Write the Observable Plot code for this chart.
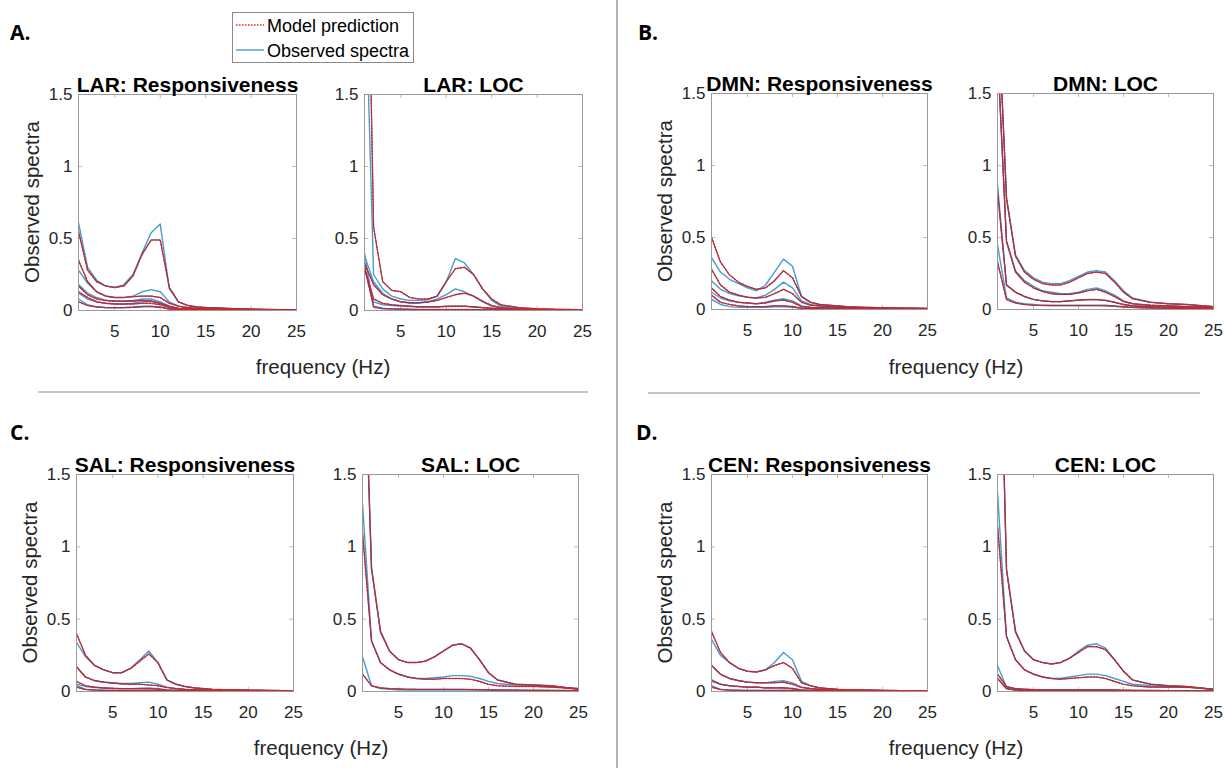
<!DOCTYPE html>
<html><head><meta charset="utf-8">
<script src="https://cdn.jsdelivr.net/npm/d3@7"></script>
<script src="https://cdn.jsdelivr.net/npm/@observablehq/plot@0.6"></script>
<style>
body{margin:0;background:#fff;}
#root{position:relative;width:1231px;height:768px;overflow:hidden;font-family:"Liberation Sans",Arial,sans-serif;}
#root > svg{position:absolute;}
</style></head><body><div id="root"></div>
<script>
// ---------------- data ----------------
const freq = [1,2,3,4,5,6,7,8,9,10,11,12,13,14,15,16,18,20,22,25];
const xTicks = [5,10,15,20,25];
const yTicks = [0,0.5,1,1.5];
const legendLabels = ["Model prediction","Observed spectra"];
const xLabel = "frequency (Hz)";
const yLabel = "Observed spectra";

// LAR: Responsiveness
const larRespObs = [
  [0.61,0.30,0.21,0.17,0.16,0.18,0.25,0.40,0.54,0.60,0.15,0.06,0.035,0.025,0.02,0.018,0.013,0.01,0.007,0.004],
  [0.28,0.19,0.13,0.10,0.09,0.09,0.10,0.13,0.145,0.13,0.06,0.03,0.02,0.015,0.012,0.01,0.008,0.006,0.005,0.003],
  [0.18,0.12,0.09,0.07,0.065,0.065,0.07,0.08,0.08,0.06,0.03,0.015,0.012,0.01,0.009,0.008,0.006,0.005,0.004,0.003],
  [0.12,0.08,0.06,0.05,0.045,0.045,0.05,0.06,0.065,0.05,0.025,0.012,0.01,0.008,0.007,0.006,0.005,0.004,0.003,0.002],
  [0.08,0.04,0.025,0.02,0.02,0.02,0.025,0.03,0.03,0.025,0.01,0.006,0.005,0.004,0.004,0.003,0.003,0.002,0.002,0.001]
];
const larRespModel = [
  [0.55,0.28,0.20,0.17,0.16,0.17,0.24,0.39,0.49,0.49,0.16,0.06,0.035,0.025,0.02,0.018,0.013,0.01,0.007,0.004],
  [0.35,0.20,0.13,0.10,0.09,0.09,0.095,0.10,0.10,0.09,0.05,0.03,0.02,0.015,0.012,0.01,0.008,0.006,0.005,0.003],
  [0.17,0.11,0.08,0.07,0.065,0.065,0.065,0.07,0.065,0.05,0.03,0.015,0.012,0.01,0.009,0.008,0.006,0.005,0.004,0.003],
  [0.13,0.09,0.06,0.05,0.045,0.045,0.045,0.05,0.05,0.04,0.02,0.012,0.01,0.008,0.007,0.006,0.005,0.004,0.003,0.002],
  [0.06,0.035,0.025,0.02,0.02,0.02,0.022,0.026,0.028,0.022,0.01,0.006,0.005,0.004,0.004,0.003,0.003,0.002,0.002,0.001]
];
// LAR: LOC
const larLocObs = [
  [2.5,0.25,0.15,0.10,0.08,0.07,0.07,0.075,0.10,0.20,0.36,0.33,0.25,0.15,0.07,0.03,0.015,0.01,0.008,0.005],
  [0.38,0.20,0.12,0.08,0.06,0.05,0.05,0.06,0.08,0.11,0.15,0.13,0.10,0.06,0.03,0.015,0.01,0.007,0.005,0.004],
  [0.30,0.06,0.04,0.035,0.03,0.028,0.025,0.025,0.025,0.028,0.03,0.03,0.025,0.02,0.015,0.01,0.007,0.005,0.004,0.003],
  [0.40,0.02,0.012,0.01,0.008,0.007,0.006,0.006,0.006,0.006,0.006,0.006,0.005,0.005,0.004,0.004,0.003,0.003,0.002,0.002]
];
const larLocModel = [
  [4.0,0.58,0.20,0.14,0.13,0.09,0.08,0.08,0.10,0.20,0.29,0.30,0.25,0.15,0.08,0.04,0.02,0.012,0.008,0.005],
  [0.33,0.18,0.11,0.08,0.06,0.055,0.055,0.06,0.07,0.09,0.11,0.12,0.10,0.065,0.035,0.02,0.01,0.007,0.005,0.004],
  [0.30,0.08,0.05,0.04,0.035,0.03,0.025,0.025,0.025,0.03,0.03,0.03,0.025,0.02,0.015,0.01,0.007,0.005,0.004,0.003],
  [0.30,0.03,0.015,0.012,0.01,0.008,0.007,0.007,0.007,0.007,0.007,0.007,0.006,0.005,0.005,0.004,0.003,0.003,0.002,0.002]
];
// DMN: Responsiveness
const dmnRespObs = [
  [0.36,0.26,0.21,0.18,0.15,0.13,0.17,0.26,0.35,0.30,0.09,0.05,0.035,0.03,0.025,0.02,0.015,0.012,0.01,0.008],
  [0.20,0.14,0.11,0.095,0.085,0.08,0.10,0.14,0.19,0.15,0.06,0.035,0.025,0.02,0.016,0.013,0.01,0.008,0.007,0.006],
  [0.12,0.08,0.06,0.05,0.045,0.04,0.05,0.065,0.075,0.06,0.025,0.015,0.012,0.01,0.009,0.008,0.007,0.006,0.005,0.004],
  [0.07,0.035,0.02,0.015,0.015,0.015,0.016,0.018,0.02,0.016,0.008,0.006,0.005,0.004,0.004,0.003,0.003,0.003,0.002,0.002]
];
const dmnRespModel = [
  [0.50,0.33,0.24,0.19,0.16,0.14,0.15,0.20,0.27,0.22,0.09,0.05,0.035,0.03,0.025,0.02,0.015,0.012,0.01,0.008],
  [0.28,0.17,0.12,0.10,0.085,0.08,0.085,0.11,0.14,0.11,0.05,0.03,0.025,0.02,0.016,0.013,0.01,0.008,0.007,0.006],
  [0.15,0.09,0.065,0.05,0.045,0.04,0.045,0.06,0.065,0.05,0.02,0.015,0.012,0.01,0.009,0.008,0.007,0.006,0.005,0.004],
  [0.10,0.05,0.035,0.025,0.02,0.02,0.02,0.025,0.025,0.02,0.01,0.007,0.006,0.005,0.004,0.004,0.003,0.003,0.002,0.002]
];
// DMN: LOC
const dmnLocObs = [
  [2.2,0.78,0.38,0.27,0.22,0.19,0.18,0.18,0.20,0.23,0.26,0.27,0.26,0.20,0.13,0.08,0.05,0.04,0.035,0.02],
  [1.8,0.48,0.27,0.20,0.16,0.13,0.12,0.11,0.11,0.12,0.14,0.15,0.13,0.10,0.06,0.04,0.03,0.025,0.02,0.015],
  [0.87,0.17,0.12,0.09,0.07,0.06,0.055,0.055,0.06,0.065,0.07,0.07,0.065,0.05,0.035,0.025,0.02,0.015,0.012,0.01],
  [0.45,0.08,0.05,0.04,0.035,0.03,0.03,0.03,0.03,0.03,0.03,0.03,0.03,0.025,0.02,0.015,0.012,0.01,0.008,0.006]
];
const dmnLocModel = [
  [2.2,0.77,0.37,0.26,0.21,0.18,0.17,0.17,0.19,0.22,0.25,0.26,0.25,0.19,0.12,0.075,0.05,0.04,0.035,0.02],
  [1.8,0.47,0.26,0.19,0.15,0.125,0.11,0.105,0.105,0.115,0.13,0.14,0.12,0.09,0.055,0.04,0.03,0.025,0.02,0.015],
  [0.82,0.17,0.12,0.09,0.07,0.06,0.055,0.055,0.06,0.065,0.068,0.068,0.063,0.05,0.035,0.025,0.02,0.015,0.012,0.01],
  [0.33,0.07,0.045,0.035,0.03,0.028,0.027,0.027,0.027,0.027,0.027,0.027,0.026,0.022,0.018,0.014,0.011,0.009,0.007,0.005]
];
// SAL: Responsiveness
const salRespObs = [
  [0.34,0.24,0.18,0.15,0.13,0.13,0.16,0.22,0.28,0.20,0.08,0.05,0.035,0.025,0.02,0.015,0.012,0.01,0.008,0.005],
  [0.17,0.10,0.075,0.065,0.06,0.055,0.055,0.06,0.065,0.05,0.03,0.02,0.015,0.012,0.01,0.009,0.008,0.006,0.005,0.004],
  [0.05,0.035,0.028,0.024,0.02,0.02,0.02,0.022,0.025,0.02,0.01,0.008,0.007,0.006,0.005,0.005,0.004,0.004,0.003,0.003],
  [0.04,0.015,0.01,0.008,0.007,0.007,0.007,0.008,0.009,0.008,0.005,0.004,0.004,0.003,0.003,0.003,0.002,0.002,0.002,0.002]
];
const salRespModel = [
  [0.40,0.25,0.18,0.15,0.13,0.13,0.16,0.21,0.26,0.20,0.08,0.05,0.035,0.025,0.02,0.015,0.012,0.01,0.008,0.005],
  [0.17,0.10,0.075,0.065,0.058,0.053,0.05,0.05,0.045,0.04,0.028,0.02,0.015,0.012,0.01,0.009,0.008,0.006,0.005,0.004],
  [0.07,0.04,0.03,0.025,0.022,0.02,0.02,0.02,0.02,0.017,0.01,0.008,0.007,0.006,0.005,0.005,0.004,0.004,0.003,0.003],
  [0.03,0.014,0.01,0.008,0.007,0.007,0.007,0.007,0.007,0.007,0.005,0.004,0.004,0.003,0.003,0.003,0.002,0.002,0.002,0.002]
];
// SAL: LOC
const salLocObs = [
  [2.8,0.86,0.42,0.28,0.22,0.20,0.20,0.21,0.24,0.28,0.32,0.33,0.30,0.22,0.13,0.08,0.05,0.045,0.04,0.015],
  [1.30,0.35,0.20,0.15,0.12,0.10,0.09,0.09,0.095,0.10,0.11,0.11,0.105,0.09,0.07,0.055,0.045,0.04,0.035,0.02],
  [0.24,0.04,0.02,0.015,0.012,0.01,0.01,0.01,0.01,0.01,0.01,0.01,0.01,0.01,0.009,0.008,0.007,0.006,0.005,0.004]
];
const salLocModel = [
  [2.8,0.85,0.41,0.28,0.22,0.20,0.20,0.21,0.24,0.28,0.32,0.33,0.30,0.22,0.13,0.08,0.05,0.045,0.04,0.015],
  [1.10,0.35,0.20,0.15,0.12,0.10,0.09,0.085,0.085,0.09,0.09,0.09,0.085,0.07,0.05,0.04,0.035,0.035,0.03,0.02],
  [0.12,0.04,0.025,0.02,0.018,0.016,0.015,0.015,0.015,0.015,0.015,0.015,0.014,0.013,0.012,0.011,0.01,0.009,0.008,0.006]
];
// CEN: Responsiveness
const cenRespObs = [
  [0.36,0.25,0.20,0.16,0.14,0.135,0.15,0.20,0.27,0.22,0.07,0.04,0.025,0.02,0.015,0.012,0.01,0.008,0.006,0.005],
  [0.18,0.12,0.09,0.075,0.065,0.06,0.06,0.07,0.075,0.06,0.03,0.02,0.015,0.012,0.01,0.009,0.008,0.006,0.005,0.004],
  [0.07,0.05,0.04,0.035,0.03,0.03,0.025,0.025,0.025,0.02,0.01,0.008,0.007,0.006,0.005,0.005,0.004,0.004,0.003,0.003],
  [0.04,0.015,0.01,0.008,0.007,0.007,0.007,0.008,0.009,0.008,0.005,0.004,0.004,0.003,0.003,0.003,0.002,0.002,0.002,0.002]
];
const cenRespModel = [
  [0.415,0.27,0.20,0.16,0.14,0.135,0.15,0.18,0.20,0.16,0.06,0.04,0.025,0.02,0.015,0.012,0.01,0.008,0.006,0.005],
  [0.18,0.12,0.09,0.075,0.065,0.06,0.06,0.06,0.065,0.05,0.028,0.02,0.015,0.012,0.01,0.009,0.008,0.006,0.005,0.004],
  [0.08,0.05,0.04,0.035,0.03,0.03,0.025,0.025,0.025,0.02,0.01,0.008,0.007,0.006,0.005,0.005,0.004,0.004,0.003,0.003],
  [0.03,0.014,0.01,0.008,0.007,0.007,0.007,0.007,0.007,0.007,0.005,0.004,0.004,0.003,0.003,0.003,0.002,0.002,0.002,0.002]
];
// CEN: LOC
const cenLocObs = [
  [3.35,0.85,0.42,0.28,0.22,0.20,0.19,0.20,0.23,0.28,0.32,0.33,0.30,0.22,0.14,0.08,0.05,0.04,0.035,0.015],
  [1.38,0.38,0.22,0.15,0.12,0.10,0.09,0.09,0.10,0.11,0.12,0.12,0.11,0.09,0.07,0.05,0.04,0.035,0.03,0.015],
  [0.18,0.03,0.018,0.015,0.012,0.011,0.01,0.01,0.01,0.01,0.01,0.01,0.01,0.01,0.009,0.008,0.007,0.006,0.005,0.004],
  [0.09,0.02,0.01,0.008,0.006,0.005,0.005,0.005,0.005,0.005,0.005,0.005,0.005,0.005,0.004,0.004,0.003,0.003,0.003,0.002]
];
const cenLocModel = [
  [3.35,0.84,0.41,0.28,0.22,0.20,0.19,0.20,0.23,0.27,0.31,0.31,0.29,0.22,0.14,0.08,0.05,0.04,0.035,0.015],
  [1.15,0.38,0.22,0.15,0.12,0.10,0.09,0.085,0.09,0.095,0.10,0.10,0.09,0.07,0.05,0.04,0.03,0.03,0.03,0.015],
  [0.12,0.035,0.02,0.016,0.013,0.012,0.011,0.011,0.011,0.011,0.011,0.011,0.011,0.01,0.009,0.008,0.007,0.006,0.005,0.004],
  [0.09,0.02,0.01,0.008,0.006,0.005,0.005,0.005,0.005,0.005,0.005,0.005,0.005,0.005,0.004,0.004,0.003,0.003,0.003,0.002]
];

const titles = ["LAR: Responsiveness","LAR: LOC","DMN: Responsiveness","DMN: LOC",
                "SAL: Responsiveness","SAL: LOC","CEN: Responsiveness","CEN: LOC"];
const panelLetters = ["A.","B.","C.","D."];

// ---------------- layout ----------------
const BLUE = "#4b9bcb", RED = "#e3231c", NAVY = "#2f3a88";
const frames = [
  [78,94,296,310],[364,94,582,310],[711,93,927,309],[997,93,1213,309],
  [76,474,293,691],[362,474,578,691],[711,474,927,691],[997,474,1213,691]
];
const obsSets = [larRespObs,larLocObs,dmnRespObs,dmnLocObs,salRespObs,salLocObs,cenRespObs,cenLocObs];
const modelSets = [larRespModel,larLocModel,dmnRespModel,dmnLocModel,salRespModel,salLocModel,cenRespModel,cenLocModel];

function rows(sets){
  const out = [];
  sets.forEach((vals, s) => vals.forEach((v, i) => out.push({f: freq[i], v, s})));
  return out;
}

const root = document.getElementById("root");

// y-axis titles for the left panel of each pair (rotated)
const yTitles = [0, 2, 4, 6].map(k => {
  const [l, t, r, b] = frames[k];
  const cx = l - 46, cy = (t + b) / 2;
  return `<text x="${cx}" y="${cy}" transform="rotate(-90 ${cx} ${cy})" dy="0.35em">${yLabel}</text>`;
}).join("");

// decoration layer (letters, separators, legend, shared x labels)
const deco = `
<svg width="1231" height="768" style="left:0;top:0" xmlns="http://www.w3.org/2000/svg">
  <line x1="617" y1="0" x2="617" y2="768" stroke="#8a8a8a" stroke-width="1.3"/>
  <line x1="38" y1="392" x2="588" y2="392" stroke="#8a8a8a" stroke-width="1.2"/>
  <line x1="648" y1="393" x2="1200" y2="393" stroke="#8a8a8a" stroke-width="1.2"/>
  <g font-family="Open Sans, Lato, sans-serif" font-weight="700" font-size="21" fill="#000">
    <text x="10" y="40">${panelLetters[0]}</text>
    <text x="638" y="40">${panelLetters[1]}</text>
    <text x="10" y="440">${panelLetters[2]}</text>
    <text x="636" y="440">${panelLetters[3]}</text>
  </g>
  <g font-family="Liberation Sans, Arial, sans-serif" font-size="20.5" fill="#262626" text-anchor="middle">
    <text x="323" y="374">${xLabel}</text>
    <text x="956" y="374">${xLabel}</text>
    <text x="321" y="755">${xLabel}</text>
    <text x="956" y="755">${xLabel}</text>
    ${yTitles}
  </g>
  <rect x="232.5" y="12.5" width="181" height="50" fill="#fff" stroke="#8a8a8a" stroke-width="1"/>
  <line x1="236" y1="25" x2="264" y2="25" stroke="${RED}" stroke-width="1.4" stroke-dasharray="1.5,1.5"/>
  <line x1="236" y1="50" x2="264" y2="50" stroke="${BLUE}" stroke-width="1.4"/>
  <g font-family="Liberation Sans, Arial, sans-serif" font-size="18" fill="#000">
    <text x="267" y="31.5">${legendLabels[0]}</text>
    <text x="267" y="56.5">${legendLabels[1]}</text>
  </g>
</svg>`;
root.insertAdjacentHTML("beforeend", deco);

const ML = 40, MR = 6, MT = 36, MB = 36;
frames.forEach(([l, t, r, b], k) => {
  const fw = r - l, fh = b - t;
  const obs = rows(obsSets[k]);
  const mod = rows(modelSets[k]);
  const chart = Plot.plot({
    width: fw + ML + MR, height: fh + MT + MB,
    marginLeft: ML, marginRight: MR, marginTop: MT, marginBottom: MB,
    x: {domain: [1, 25]},
    y: {domain: [0, 1.5]},
    style: {fontFamily: "Liberation Sans, Arial, sans-serif", fontSize: "17px", color: "#262626", background: "transparent", overflow: "visible"},
    marks: [
      Plot.axisX(xTicks, {tickSize: 0, tickPadding: 14, fontSize: 17, label: null, tickFormat: d => String(d)}),
      Plot.axisY(yTicks, {tickSize: 0, tickPadding: 6, fontSize: 17, label: null, tickFormat: d => String(d)}),
      Plot.ruleX(xTicks, {x: d => d, y1: () => 0, y2: () => 0.028, stroke: "#aaa", strokeWidth: 0.8}),
      Plot.ruleX(xTicks, {x: d => d, y1: () => 1.472, y2: () => 1.5, stroke: "#aaa", strokeWidth: 0.8}),
      Plot.ruleY(yTicks, {y: d => d, x1: () => 1, x2: () => 1.45, stroke: "#aaa", strokeWidth: 0.8}),
      Plot.ruleY(yTicks, {y: d => d, x1: () => 24.55, x2: () => 25, stroke: "#aaa", strokeWidth: 0.8}),
      Plot.line(obs, {x: "f", y: "v", z: "s", stroke: BLUE, strokeWidth: 1.4, clip: true}),
      Plot.line(mod, {x: "f", y: "v", z: "s", stroke: NAVY, strokeWidth: 1.1, strokeOpacity: 0.9, clip: true}),
      Plot.line(mod, {x: "f", y: "v", z: "s", stroke: RED, strokeWidth: 1.4, strokeDasharray: "1.2,2", clip: true}),
      Plot.frame({stroke: "#9a9a9a", strokeWidth: 1}),
      Plot.text([titles[k]], {frameAnchor: "top", dy: -3, lineAnchor: "bottom", fontSize: 21, fontWeight: "bold", fill: "#000"})
    ]
  });
  chart.style.position = "absolute";
  chart.style.left = (l - ML) + "px";
  chart.style.top = (t - MT) + "px";
  root.appendChild(chart);
});
</script>
</body></html>
